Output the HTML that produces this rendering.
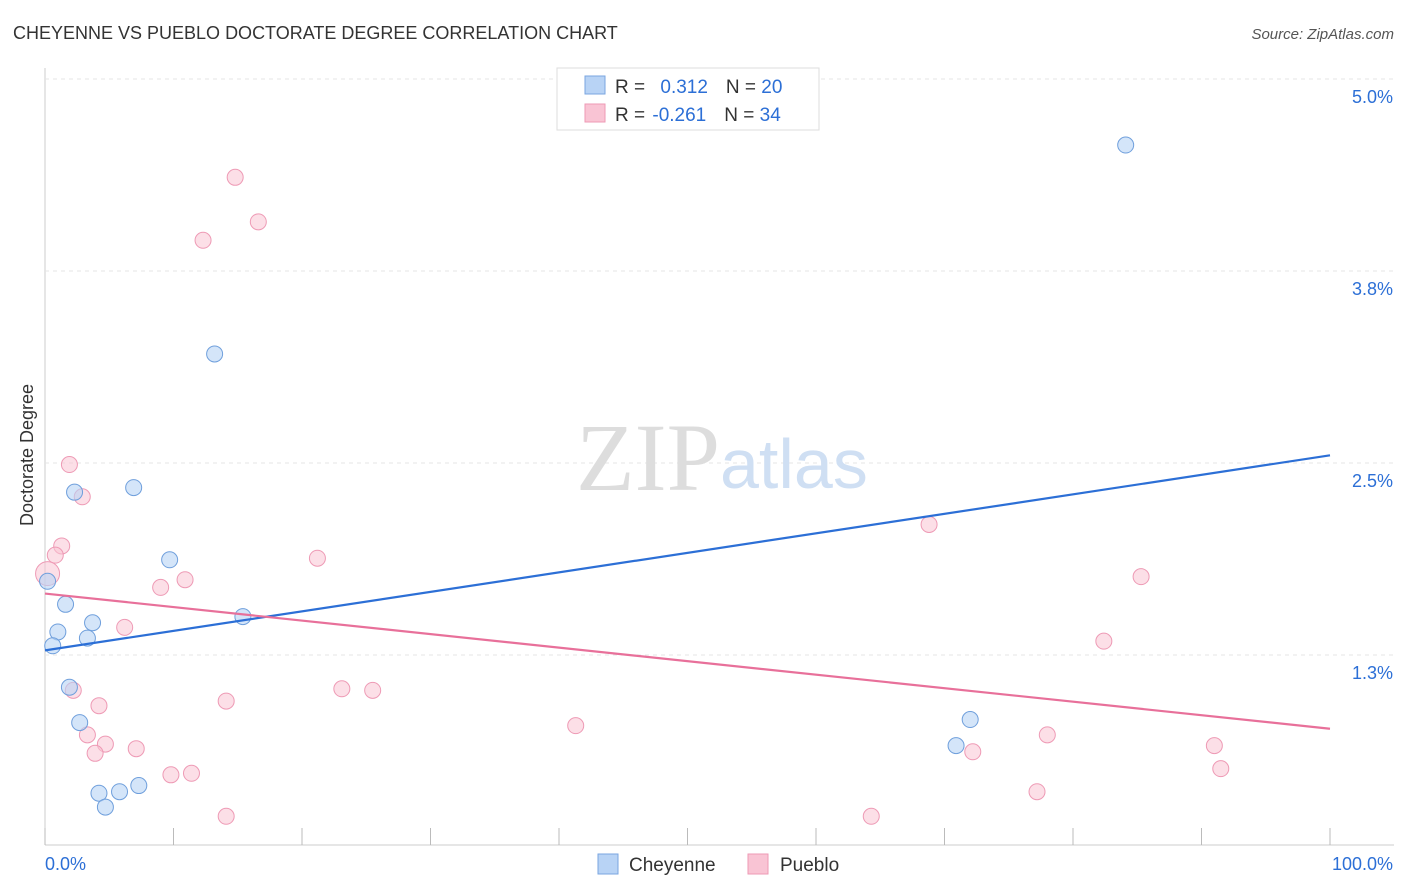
<!DOCTYPE html>
<html><head><meta charset="utf-8"><style>
body{margin:0;background:#fff;font-family:"Liberation Sans",sans-serif;}
svg{display:block}
</style></head><body>
<svg id="c" width="1406" height="892">
<text x="13" y="39" font-size="18" fill="#333">CHEYENNE VS PUEBLO DOCTORATE DEGREE CORRELATION CHART</text>
<text x="1394" y="39" font-size="15" fill="#555" font-style="italic" text-anchor="end">Source: ZipAtlas.com</text>
<text transform="translate(33,455) rotate(-90)" font-size="18" fill="#333" text-anchor="middle">Doctorate Degree</text>
<g id="grid"></g>
<text x="720" y="490" font-size="96" fill="#ddd" font-family="Liberation Serif,serif" text-anchor="end">ZIP</text>
<text x="720" y="488" font-size="70" fill="#cfdff3">atlas</text>
<g id="pts"></g>
<g id="lines"></g>
<g>
<rect x="557" y="68" width="262" height="62" fill="#fff" stroke="#ddd"/>
<rect x="585" y="76" width="20" height="18" fill="#b8d3f5" stroke="#7aa6e0"/>
<rect x="585" y="104" width="20" height="18" fill="#f9c4d4" stroke="#ee9ab5"/>
<text x="615" y="93" font-size="19" fill="#333">R = <tspan fill="#2c6fd6" dx="10">0.312</tspan><tspan fill="#333" dx="18">N = </tspan><tspan fill="#2c6fd6">20</tspan></text>
<text x="615" y="121" font-size="19" fill="#333">R = <tspan fill="#2c6fd6" dx="2">-0.261</tspan><tspan fill="#333" dx="18">N = </tspan><tspan fill="#2c6fd6">34</tspan></text>
</g>
<g>
<rect x="598" y="854" width="20" height="20" fill="#b8d3f5" stroke="#7aa6e0"/>
<text x="629" y="871" font-size="19" fill="#333">Cheyenne</text>
<rect x="748" y="854" width="20" height="20" fill="#f9c4d4" stroke="#ee9ab5"/>
<text x="780" y="871" font-size="19" fill="#333">Pueblo</text>
</g>
<text x="45" y="870" font-size="18" fill="#2c6fd6">0.0%</text>
<text x="1393" y="870" font-size="18" fill="#2c6fd6" text-anchor="end">100.0%</text>
</svg>
<script>
const yTicks=[5.0,3.75,2.5,1.25];
const yTickLabels=["5.0%","3.8%","2.5%","1.3%"];
const cheyX=[84.1,13.2,6.9,2.3,9.7,0.2,1.6,15.4,3.7,1.0,3.3,0.6,1.9,2.7,72.0,70.9,7.3,4.2,5.8,4.7];
const cheyY=[4.57,3.21,2.34,2.31,1.87,1.73,1.58,1.50,1.46,1.40,1.36,1.31,1.04,0.81,0.83,0.66,0.40,0.35,0.36,0.26];
const puebX=[14.8,16.6,12.3,1.9,2.9,1.3,0.8,21.2,0.2,10.9,9.0,85.3,6.2,68.8,82.4,23.1,25.5,2.2,14.1,4.2,41.3,78.0,3.3,4.7,91.0,7.1,72.2,3.9,11.4,9.8,91.5,77.2,14.1,64.3];
const puebY=[4.36,4.07,3.95,2.49,2.28,1.96,1.90,1.88,1.78,1.74,1.69,1.76,1.43,2.10,1.34,1.03,1.02,1.02,0.95,0.92,0.79,0.73,0.73,0.67,0.66,0.64,0.62,0.61,0.48,0.47,0.51,0.36,0.20,0.20];
const blueLine=[1.28,2.55];
const pinkLine=[1.65,0.77];
const X=v=>45+v/100*1285, Y=v=>847-v/1.25*192;
const NS="http://www.w3.org/2000/svg";
function mk(t,a,p){const e=document.createElementNS(NS,t);for(const k in a)e.setAttribute(k,a[k]);p.appendChild(e);return e;}
const g=document.getElementById('grid');
mk('line',{x1:45,y1:68,x2:45,y2:845,stroke:'#ccc'},g);
mk('line',{x1:45,y1:845,x2:1394,y2:845,stroke:'#ccc'},g);
for(let i=0;i<=10;i++){const t=mk('line',{x1:45+i*128.5,y1:828,x2:45+i*128.5,y2:845,stroke:'#bbb'},g);

}
yTicks.forEach((v,i)=>{const l=mk('line',{x1:45,y1:Y(v),x2:1394,y2:Y(v),stroke:'#e4e4e4','stroke-dasharray':'4,4'},g);


const t=mk('text',{x:1393,y:Y(v)+24,'font-size':18,fill:'#2c6fd6','text-anchor':'end'},g);t.textContent=yTickLabels[i];

});
const p=document.getElementById('pts');
puebX.forEach((x,i)=>{const c=mk('circle',{cx:X(x),cy:Y(puebY[i]),r:i==8?12:8,fill:'rgba(249,196,212,0.55)',stroke:'#ee9ab5','stroke-width':1},p);

});
cheyX.forEach((x,i)=>{const c=mk('circle',{cx:X(x),cy:Y(cheyY[i]),r:8,fill:'rgba(184,211,245,0.6)',stroke:'#6f9fdc','stroke-width':1},p);

});
const L=document.getElementById('lines');
const b=mk('line',{x1:X(0),y1:Y(blueLine[0]),x2:X(100),y2:Y(blueLine[1]),stroke:'#2c6fd6','stroke-width':2.2},L);


const q=mk('line',{x1:X(0),y1:Y(pinkLine[0]),x2:X(100),y2:Y(pinkLine[1]),stroke:'#e8709a','stroke-width':2.2},L);


</script>
</body></html>
